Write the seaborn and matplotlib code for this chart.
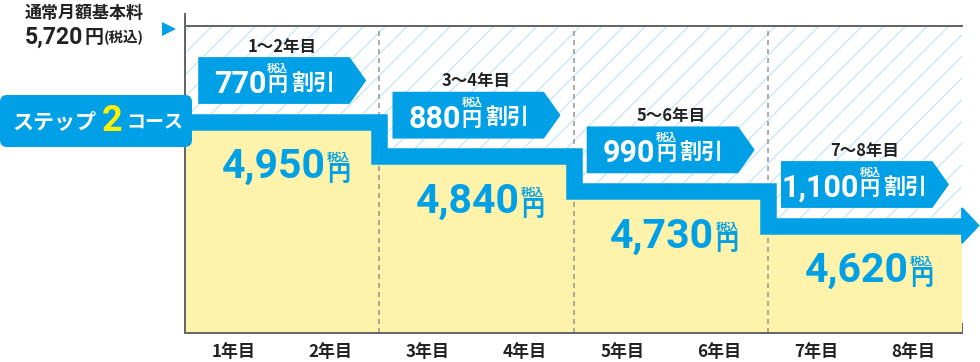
import numpy as np
import pandas as pd
import seaborn as sns
import matplotlib
matplotlib.use("Agg")
import matplotlib.pyplot as plt
import matplotlib.transforms as mtransforms
from matplotlib.patches import Polygon, FancyBboxPatch
from matplotlib.lines import Line2D

# ---------------- data ----------------
years = ["1年目", "2年目", "3年目", "4年目", "5年目", "6年目", "7年目", "8年目"]
periods = ["1〜2年目", "3〜4年目", "5〜6年目", "7〜8年目"]
monthly_price = [4950, 4840, 4730, 4620]      # 円(税込)
discount = [770, 880, 990, 1100]             # 円(税込) 割引
base_price = 5720                            # 通常月額基本料
course_name = ["ステップ", "2", "コース"]

# ---------------- style ----------------
DPI = 130
W, H = 980, 362
def pt(px):
    return px * 72.0 / DPI

BLUE = "#00a0e6"
YELLOW = "#fff2aa"
HATCH = "#b0ddf5"
GRAY = "#666666"
TXT = "#222222"
CJK = ["Noto Sans CJK JP", "DejaVu Sans"]
NUM = ["Roboto", "Noto Sans CJK JP", "DejaVu Sans"]

sns.set_theme(style="white")
plt.rcParams["font.family"] = CJK
plt.rcParams["hatch.linewidth"] = pt(0.9)
plt.rcParams["hatch.color"] = HATCH

fig = plt.figure(figsize=(W / DPI, H / DPI), dpi=DPI)
L, R, T, B = 185, 962, 26, 333
ax = fig.add_axes([L / W, 1 - B / H, (R - L) / W, (B - T) / H])

# yellow blocks: price per year
yearly_price = np.repeat(monthly_price, 2)
df = pd.DataFrame({"year": years, "price": yearly_price})
sns.barplot(data=df, x="year", y="price", color=YELLOW, saturation=1,
            width=1.0, edgecolor=YELLOW, linewidth=pt(1), ax=ax, zorder=1)

# step outline (period edges)
x_edges = [-0.5, 1.5, 3.5, 5.5, 7.5]
y_step = list(monthly_price) + [monthly_price[-1]]

ax.fill_between(x_edges, y_step, base_price, step="post", facecolor="white",
                edgecolor=HATCH, hatch="//", linewidth=0, zorder=1.5)

for xb in x_edges[1:-1]:
    ax.axvline(xb, color="#8a8a8a", alpha=0.7, lw=pt(2), ls=(0, (2.5, 2)), zorder=2)

sns.lineplot(x=x_edges, y=y_step, drawstyle="steps-post", estimator=None, sort=False,
             color=BLUE, lw=pt(16.5), solid_joinstyle="miter", solid_capstyle="butt",
             ax=ax, zorder=3)

ax.set_xlim(-0.5, 7.5)
ax.set_ylim(4279, 5253)
ppy = (B - T) / (5253 - 4279)

def anchored(xd, yd):
    return (mtransforms.Affine2D().scale(1.0 / DPI) + fig.dpi_scale_trans +
            mtransforms.ScaledTranslation(xd, yd, ax.transData))

# arrow head at the end of the band
tr = anchored(x_edges[-1], y_step[-1])
ax.add_patch(Polygon([(0, -17.5), (0, 17.5), (16.5, 0)], closed=True, color=BLUE,
                     transform=tr, clip_on=False, zorder=3))

# discount tags and prices
for i, (per, price, disc) in enumerate(zip(periods, monthly_price, discount)):
    xc = 2 * i + 0.5
    tr = anchored(xc, price)
    ax.add_patch(Polygon([(-83, 18.5), (-83, 63.5), (67, 63.5), (83, 41), (67, 18.5)],
                         closed=True, color=BLUE, transform=tr, clip_on=False, zorder=4))
    ax.text(0, 75, per, transform=tr, ha="center", va="center", fontsize=pt(16.5),
            fontweight="bold", color=TXT, family=CJK, zorder=5, clip_on=False)
    s = f"{disc:,}"
    c = -4.5 + (len(s) - 3) * 4.75
    ax.text(c - 11, 28.5, s, transform=tr, ha="right", va="baseline", fontsize=pt(30.5),
            fontweight="bold", color="white", family=NUM, zorder=5, clip_on=False)
    ax.text(c, 53, "税込", transform=tr, ha="center", va="center", fontsize=pt(10.5),
            fontweight="bold", color="white", family=CJK, zorder=5, clip_on=False)
    ax.text(c, 37, "円", transform=tr, ha="center", va="center", fontsize=pt(20),
            fontweight="bold", color="white", family=CJK, zorder=5, clip_on=False)
    ax.text(c + 13.5, 38.5, "割引", transform=tr, ha="left", va="center", fontsize=pt(22),
            fontweight="bold", color="white", family=CJK, zorder=5, clip_on=False)
    # price
    ax.text(43.5, -56.7, f"{price:,}", transform=tr, ha="right", va="baseline",
            fontsize=pt(41), fontweight="bold", color=BLUE, family=NUM, zorder=5)
    ax.text(56.3, -53, "円", transform=tr, ha="center", va="center", fontsize=pt(23),
            fontweight="bold", color=BLUE, family=CJK, zorder=5)
    ax.text(56.3, -36, "税込", transform=tr, ha="center", va="center", fontsize=pt(11.5),
            fontweight="bold", color=BLUE, family=CJK, zorder=5)

# axes styling
for side in ["left", "bottom", "top"]:
    ax.spines[side].set_color(GRAY)
    ax.spines[side].set_linewidth(pt(2))
ax.spines["right"].set_visible(False)
ax.spines["left"].set_bounds(4279, 5253 + 12 / ppy)
ax.set_yticks([])
ax.set_xticks(range(len(years)), labels=years)
ax.set_xticks([0.5, 2.5, 4.5, 6.5, 7.5], minor=True)
ax.tick_params(axis="x", which="major", length=0, pad=pt(10), labelsize=pt(17),
               labelcolor=TXT)
ax.tick_params(axis="x", which="minor", direction="in", length=pt(10), width=pt(2),
               color=GRAY, bottom=True)
for lab in ax.get_xticklabels():
    lab.set_fontweight("bold")
ax.set_xlabel("")
ax.set_ylabel("")

# header text (top-left)
def fx(x):
    return x / W
def fy(y):
    return 1 - y / H

fig.text(fx(25), fy(13), "通常月額基本料", ha="left", va="center", fontsize=pt(17),
         fontweight="bold", color=TXT, family=CJK)
fig.text(fx(25), fy(44), f"{base_price:,}", ha="left", va="baseline", fontsize=pt(23),
         fontweight="bold", color=TXT, family=NUM)
fig.text(fx(94), fy(37.5), "円", ha="center", va="center", fontsize=pt(19),
         fontweight="bold", color=TXT, family=CJK)
fig.text(fx(104), fy(38), "(税込)", ha="left", va="center", fontsize=pt(14.5),
         fontweight="bold", color=TXT, family=CJK)
fig.add_artist(Line2D([fx(169)], [fy(29)], marker=">", markersize=pt(14), color=BLUE,
                      markeredgewidth=0, transform=fig.transFigure))

# course badge
fig.add_artist(FancyBboxPatch((0, H - 147), 192, 52,
                              boxstyle="round,pad=0,rounding_size=7",
                              transform=mtransforms.IdentityTransform(),
                              facecolor=BLUE, edgecolor="none", zorder=6))
fig.text(fx(12), fy(122), course_name[0], ha="left", va="center", fontsize=pt(21),
         fontweight="bold", color="white", family=CJK, zorder=7)
fig.text(fx(112), fy(121), course_name[1], ha="center", va="center", fontsize=pt(36),
         fontweight="bold", color="#fff000", family=NUM, zorder=7)
fig.text(fx(126), fy(122), course_name[2], ha="left", va="center", fontsize=pt(19),
         fontweight="bold", color="white", family=CJK, zorder=7)

fig.savefig("out.png", dpi=DPI)
